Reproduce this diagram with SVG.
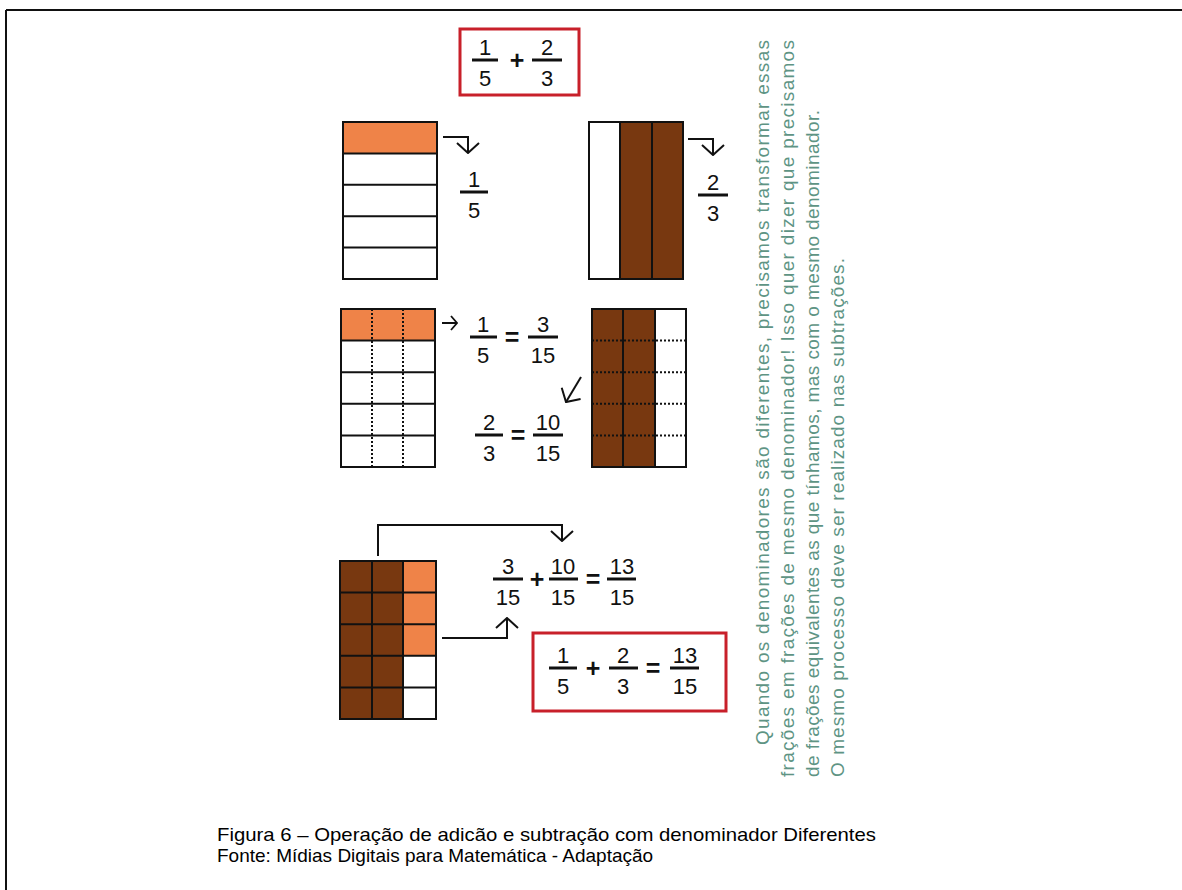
<svg xmlns="http://www.w3.org/2000/svg" width="1182" height="890" viewBox="0 0 1182 890">
<defs>
<style>
.num{font-family:"Liberation Sans",Arial,sans-serif;font-size:22px;fill:#111;text-anchor:middle}
.op{font-family:"Liberation Sans",Arial,sans-serif;font-size:25px;font-weight:bold;fill:#111;text-anchor:middle}
.bar{stroke:#111;stroke-width:3}
.grid{fill:none;stroke:#111;stroke-width:2}
.ln{stroke:#111;stroke-width:2}
.dot{stroke:#111;stroke-width:2;stroke-dasharray:2,2}
.org{fill:#ef8348}
.brn{fill:#783810}
.redbox{fill:none;stroke:#c8202a;stroke-width:3}
.arr{fill:none;stroke:#111;stroke-width:2}
.side{font-family:"Liberation Sans",Arial,sans-serif;font-size:19px;fill:#5e9484}
.cap{font-family:"Liberation Sans",Arial,sans-serif;font-size:19px;fill:#000}
</style>
<marker id="chev" viewBox="0 0 12 24" refX="11" refY="12" markerWidth="12" markerHeight="24" markerUnits="userSpaceOnUse" orient="auto">
<path d="M1,1 L11,12 L1,23" fill="none" stroke="#111" stroke-width="2"/>
</marker>
<marker id="chevS" viewBox="0 0 8 16" refX="7" refY="8" markerWidth="8" markerHeight="16" markerUnits="userSpaceOnUse" orient="auto">
<path d="M1,1 L7,8 L1,15" fill="none" stroke="#111" stroke-width="1.8"/>
</marker>
</defs>
<rect width="1182" height="890" fill="#fff"/>
<g id="border">
<line x1="6" y1="10" x2="1182" y2="10" stroke="#111" stroke-width="2"/>
<line x1="6" y1="10" x2="6" y2="890" stroke="#111" stroke-width="2"/>
</g>

<g id="topSum">
<rect class="redbox" x="460" y="29" width="119" height="66"/>
<text class="num" x="485" y="55">1</text><line class="bar" x1="472" y1="60" x2="498" y2="60"/><text class="num" x="485" y="86">5</text>
<text class="op" x="517" y="69">+</text>
<text class="num" x="547" y="55">2</text><line class="bar" x1="532" y1="60" x2="562" y2="60"/><text class="num" x="547" y="86">3</text>
</g>

<g id="grid1">
<rect class="org" x="343" y="122" width="94" height="31.4"/>
<rect class="grid" x="343" y="122" width="94" height="157"/>
<line class="ln" x1="343" y1="153.4" x2="437" y2="153.4"/>
<line class="ln" x1="343" y1="184.8" x2="437" y2="184.8"/>
<line class="ln" x1="343" y1="216.2" x2="437" y2="216.2"/>
<line class="ln" x1="343" y1="247.6" x2="437" y2="247.6"/>
</g>
<g id="frac1">
<text class="num" x="474" y="187">1</text><line class="bar" x1="460" y1="192" x2="488" y2="192"/><text class="num" x="474" y="218">5</text>
</g>

<g id="grid2">
<rect class="brn" x="620" y="122" width="63" height="157"/>
<rect class="grid" x="589" y="122" width="94" height="157"/>
<line class="ln" x1="620" y1="122" x2="620" y2="279"/>
<line class="ln" x1="652" y1="122" x2="652" y2="279"/>
</g>
<g id="frac2">
<text class="num" x="713" y="190">2</text><line class="bar" x1="698" y1="195" x2="728" y2="195"/><text class="num" x="713" y="221">3</text>
</g>

<g id="grid3">
<rect class="org" x="341" y="309" width="94" height="31.6"/>
<line class="dot" x1="372" y1="309" x2="372" y2="467"/>
<line class="dot" x1="403" y1="309" x2="403" y2="467"/>
<rect class="grid" x="341" y="309" width="94" height="158"/>
<line class="ln" x1="341" y1="340.6" x2="435" y2="340.6"/>
<line class="ln" x1="341" y1="372.2" x2="435" y2="372.2"/>
<line class="ln" x1="341" y1="403.8" x2="435" y2="403.8"/>
<line class="ln" x1="341" y1="435.4" x2="435" y2="435.4"/>
</g>
<g id="eq1">
<text class="num" x="483" y="332">1</text><line class="bar" x1="470" y1="337" x2="497" y2="337"/><text class="num" x="483" y="363">5</text>
<text class="op" x="512" y="346">=</text>
<text class="num" x="543" y="332">3</text><line class="bar" x1="528" y1="337" x2="558" y2="337"/><text class="num" x="543" y="363">15</text>
</g>
<g id="eq2">
<text class="num" x="489" y="430">2</text><line class="bar" x1="475" y1="435" x2="503" y2="435"/><text class="num" x="489" y="461">3</text>
<text class="op" x="518" y="444">=</text>
<text class="num" x="548" y="430">10</text><line class="bar" x1="533" y1="435" x2="563" y2="435"/><text class="num" x="548" y="461">15</text>
</g>

<g id="grid4">
<rect class="brn" x="592" y="309" width="63" height="158"/>
<line class="dot" x1="592" y1="340.6" x2="686" y2="340.6"/>
<line class="dot" x1="592" y1="372.2" x2="686" y2="372.2"/>
<line class="dot" x1="592" y1="403.8" x2="686" y2="403.8"/>
<line class="dot" x1="592" y1="435.4" x2="686" y2="435.4"/>
<rect class="grid" x="592" y="309" width="94" height="158"/>
<line class="ln" x1="623" y1="309" x2="623" y2="467"/>
<line class="ln" x1="655" y1="309" x2="655" y2="467"/>
</g>

<g id="grid5">
<rect class="brn" x="340" y="561" width="63" height="158"/>
<rect class="org" x="403" y="561" width="33" height="94.8"/>
<rect class="grid" x="340" y="561" width="96" height="158"/>
<line class="ln" x1="372" y1="561" x2="372" y2="719"/>
<line class="ln" x1="403" y1="561" x2="403" y2="719"/>
<line class="ln" x1="340" y1="592.6" x2="436" y2="592.6"/>
<line class="ln" x1="340" y1="624.2" x2="436" y2="624.2"/>
<line class="ln" x1="340" y1="655.8" x2="436" y2="655.8"/>
<line class="ln" x1="340" y1="687.4" x2="436" y2="687.4"/>
</g>
<g id="eq3">
<text class="num" x="508" y="574">3</text><line class="bar" x1="493" y1="579" x2="523" y2="579"/><text class="num" x="508" y="605">15</text>
<text class="op" x="537" y="588">+</text>
<text class="num" x="563" y="574">10</text><line class="bar" x1="549" y1="579" x2="578" y2="579"/><text class="num" x="563" y="605">15</text>
<text class="op" x="593" y="588">=</text>
<text class="num" x="622" y="574">13</text><line class="bar" x1="607" y1="579" x2="636" y2="579"/><text class="num" x="622" y="605">15</text>
</g>
<g id="resultBox">
<rect class="redbox" x="533" y="633" width="193" height="78"/>
<text class="num" x="563" y="663">1</text><line class="bar" x1="549" y1="668" x2="577" y2="668"/><text class="num" x="563" y="694">5</text>
<text class="op" x="593" y="677">+</text>
<text class="num" x="623" y="663">2</text><line class="bar" x1="609" y1="668" x2="638" y2="668"/><text class="num" x="623" y="694">3</text>
<text class="op" x="653" y="677">=</text>
<text class="num" x="685" y="663">13</text><line class="bar" x1="670" y1="668" x2="699" y2="668"/><text class="num" x="685" y="694">15</text>
</g>

<g id="connectors">
<polyline class="arr" points="443,137 468,137 468,153" marker-end="url(#chev)"/>
<polyline class="arr" points="688,139 713,139 713,155" marker-end="url(#chev)"/>
<polyline class="arr" points="442,323 457,323" marker-end="url(#chevS)"/>
<polyline class="arr" points="581,377 566,402" marker-end="url(#chev)"/>
<polyline class="arr" points="378,556 378,525 562,525 562,541" marker-end="url(#chev)"/>
<polyline class="arr" points="442,638 507,638 507,618" marker-end="url(#chev)"/>
</g>

<g id="sideText">
<text class="side" transform="translate(769,745) rotate(-90)" textLength="705" lengthAdjust="spacing">Quando os denominadores são diferentes, precisamos transformar essas</text>
<text class="side" transform="translate(794,777) rotate(-90)" textLength="737" lengthAdjust="spacing">frações em frações de mesmo denominador! Isso quer dizer que precisamos</text>
<text class="side" transform="translate(819,777) rotate(-90)" textLength="667" lengthAdjust="spacing">de frações equivalentes as que tínhamos, mas com o mesmo denominador.</text>
<text class="side" transform="translate(844,777) rotate(-90)" textLength="519" lengthAdjust="spacing">O mesmo processo deve ser realizado nas subtrações.</text>
</g>

<g id="caption">
<text class="cap" x="217" y="841" textLength="659" lengthAdjust="spacingAndGlyphs">Figura 6 – Operação de adicão e subtração com denominador Diferentes</text>
<text class="cap" x="217" y="862">Fonte: Mídias Digitais para Matemática - Adaptação</text>
</g>
</svg>
